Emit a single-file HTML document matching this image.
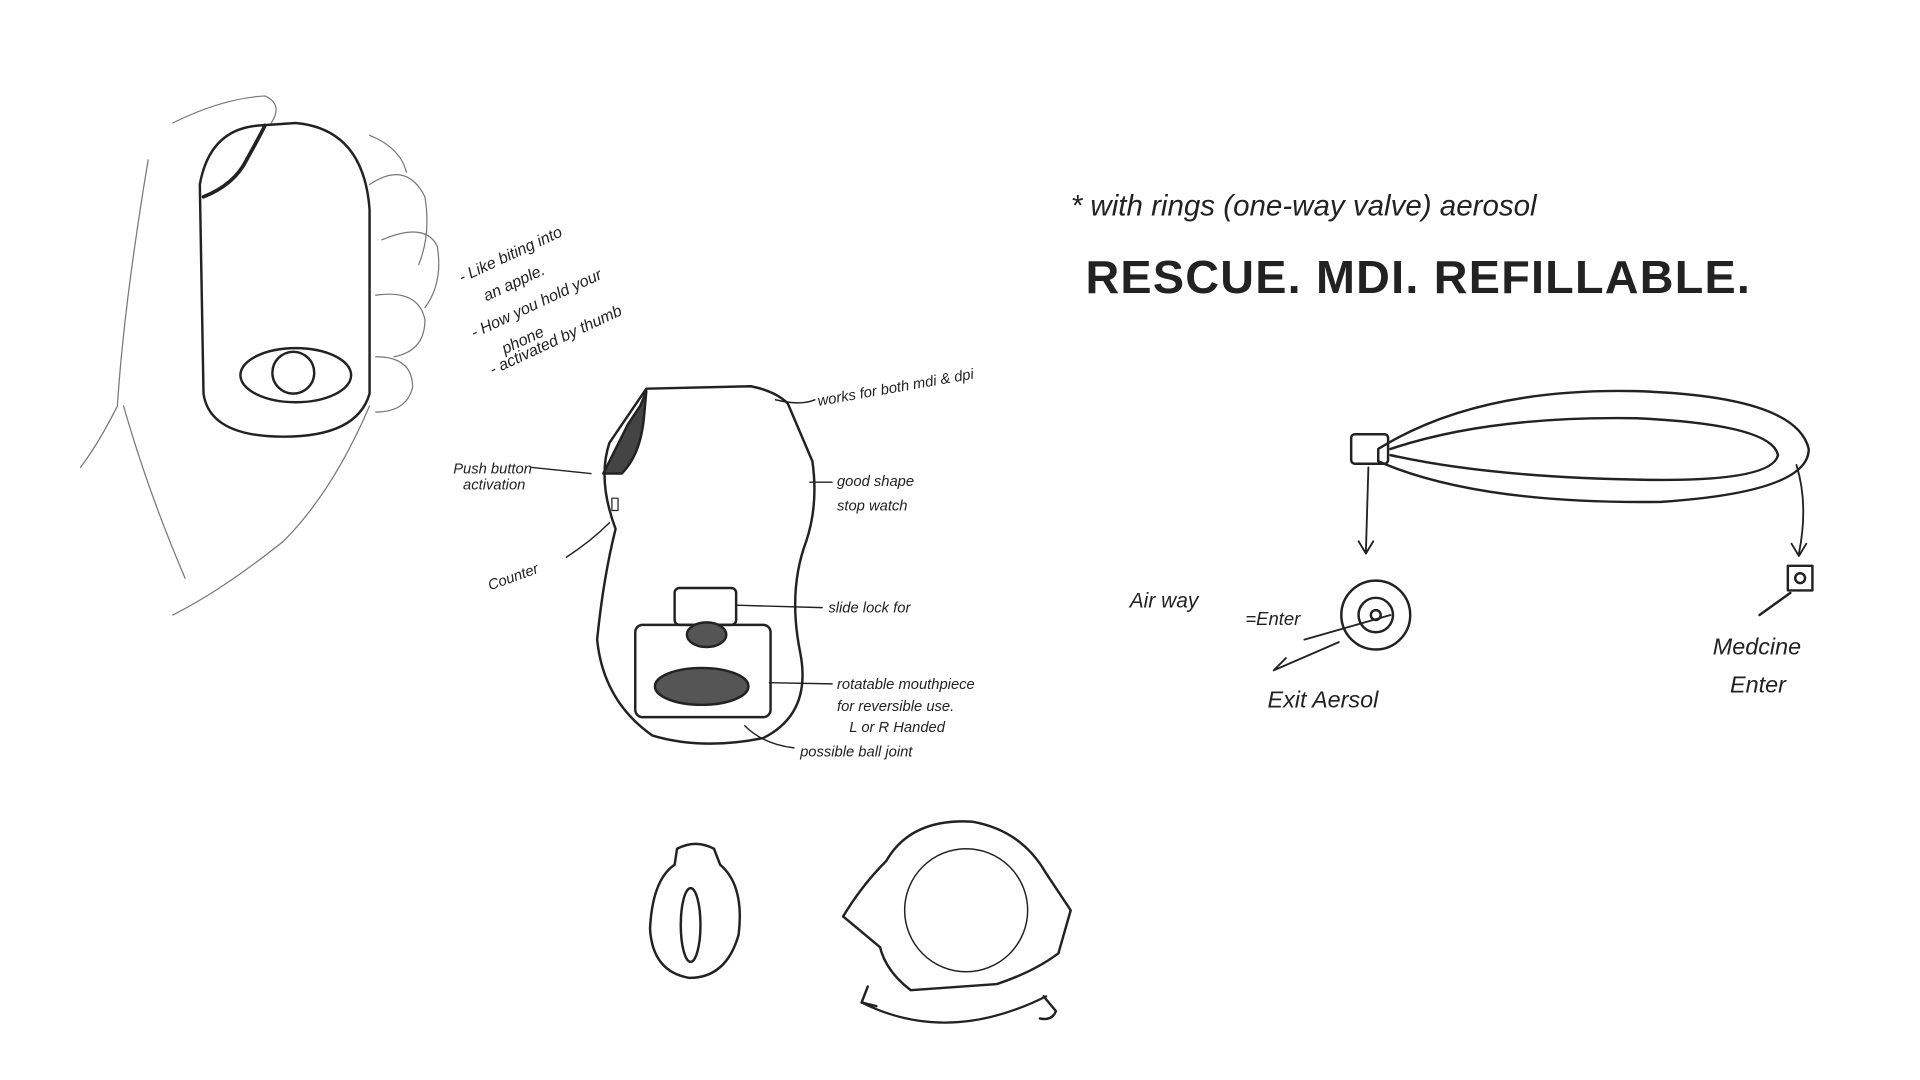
<!DOCTYPE html>
<html><head><meta charset="utf-8"><style>
html,body{margin:0;padding:0;background:#fff;width:1920px;height:1080px;overflow:hidden}
svg{display:block}
text{font-family:"Liberation Sans",sans-serif;fill:#222}
.h{font-family:"Liberation Sans",sans-serif;font-style:italic}
</style></head><body>
<svg width="1920" height="1080" viewBox="0 0 1560 878" xmlns="http://www.w3.org/2000/svg">
<rect width="1560" height="878" fill="#fff"/>
<g fill="none" stroke="#222" stroke-width="2" stroke-linecap="round" stroke-linejoin="round">
<!-- hand phone sketch -->
<g stroke="#777" stroke-width="1">
<path d="M140 100 Q180 80 215 78 Q230 85 220 100"/>
<path d="M120 130 Q100 250 95 330 Q80 360 65 380"/>
<path d="M300 150 Q330 130 345 160 Q350 190 340 215"/>
<path d="M310 195 Q345 180 355 200 Q360 230 345 250"/>
<path d="M305 240 Q340 235 345 260 Q345 285 320 290"/>
<path d="M305 290 Q335 290 335 315 Q330 335 305 335"/>
<path d="M300 330 Q270 400 230 440 Q180 480 140 500"/>
<path d="M100 330 Q120 400 150 470"/>
<path d="M300 110 Q325 120 330 140"/>
</g>
<path d="M210 102 Q170 105 162 150 L165 320 Q170 355 230 355 Q290 355 300 320 L300 170 Q295 105 240 100 Z"/>
<path d="M165 160 Q190 150 200 130 Q210 112 215 102" stroke-width="3"/>
<ellipse cx="240" cy="305" rx="45" ry="22"/>
<circle cx="238" cy="303" r="17"/>
<!-- inhaler main -->
<path d="M525 316 L610 314 Q630 318 640 328 L660 375 Q665 410 655 440 Q640 480 650 530 Q660 580 620 600 Q570 610 530 598 Q490 570 485 520 Q490 470 500 430 Q485 390 495 360 Z"/>
<path d="M525 318 L520 330 L510 345 L490 385 L505 385 Q520 370 523 340 Z" fill="#444"/>
<rect x="516" y="508" width="110" height="75" rx="6"/>
<ellipse cx="570" cy="558" rx="38" ry="15" fill="#555"/>
<rect x="548" y="478" width="50" height="30" rx="4"/>
<ellipse cx="574" cy="516" rx="16" ry="10" fill="#555"/>
<rect x="497" y="405" width="5" height="10" stroke-width="1"/>
<!-- leader lines -->
<g stroke-width="1.2">
<path d="M630 325 Q650 330 662 325"/>
<path d="M658 392 L676 392"/>
<path d="M432 380 L480 385"/>
<path d="M460 453 Q480 440 495 425"/>
<path d="M598 492 L668 494"/>
<path d="M625 555 L676 556"/>
<path d="M605 590 Q620 605 645 608"/>
</g>
<!-- bottom small sketches -->
<path d="M550 690 Q565 682 580 690 L585 703 Q605 720 600 760 Q590 795 560 795 Q530 790 528 755 Q530 715 548 703 Z"/>
<ellipse cx="561" cy="752" rx="8" ry="30"/>
<path d="M720 700 Q740 665 790 668 Q830 675 850 710 L870 740 L860 775 Q840 790 810 800 L740 805 Q720 790 715 770 L685 745 Q700 720 720 700 Z"/>
<circle cx="785" cy="740" r="50" stroke-width="1.2"/>
<path d="M700 815 Q770 850 850 810" stroke-width="1.8"/>
<path d="M700 815 L705 802 M700 815 L712 818"/>
<path d="M848 810 L858 822 Q855 830 845 828"/>
<!-- right canister -->
<path d="M1120 365 Q1200 315 1330 318 Q1460 322 1470 365 Q1470 400 1350 408 Q1200 410 1120 375 Z"/>
<path d="M1130 365 Q1210 338 1330 340 Q1440 345 1445 370 Q1440 392 1335 390 Q1210 388 1130 370"/>
<rect x="1098" y="353" width="30" height="24" rx="3"/>
<path d="M1112 380 L1110 448 M1104 440 L1110 450 L1116 440" stroke-width="1.5"/>
<path d="M1460 378 Q1470 410 1462 450 M1456 442 L1462 452 L1468 442" stroke-width="1.5"/>
<circle cx="1118" cy="500" r="28"/>
<circle cx="1118" cy="500" r="14"/>
<circle cx="1118" cy="500" r="4"/>
<rect x="1453" y="460" width="20" height="20"/>
<circle cx="1463" cy="470" r="4"/>
<path d="M1060 520 L1130 500 M1088 522 L1035 545 L1045 535" stroke-width="1.5"/>
<path d="M1455 482 L1430 500"/>
</g>
<g class="h" font-size="13">
<text transform="translate(375,230) rotate(-25)">- Like biting into</text>
<text transform="translate(395,245) rotate(-25)">an apple.</text>
<text transform="translate(385,275) rotate(-25)">- How you hold your</text>
<text transform="translate(410,288) rotate(-25)">phone</text>
<text transform="translate(400,305) rotate(-25)">- activated by thumb</text>
<text transform="translate(665,330) rotate(-10)" font-size="12">works for both mdi &amp; dpi</text>
<text x="680" y="395" font-size="12">good shape</text>
<text x="680" y="415" font-size="12">stop watch</text>
<text x="368" y="385" font-size="12">Push button</text>
<text x="376" y="398" font-size="12">activation</text>
<text transform="translate(398,480) rotate(-20)" font-size="12">Counter</text>
<text x="673" y="498" font-size="12">slide lock for</text>
<text x="680" y="560" font-size="12">rotatable mouthpiece</text>
<text x="680" y="578" font-size="12">for reversible use.</text>
<text x="690" y="595" font-size="12">L or R Handed</text>
<text x="650" y="615" font-size="12">possible ball joint</text>
<text x="870" y="175" font-size="24">* with rings (one-way valve) aerosol</text>
<text x="918" y="494" font-size="17">Air way</text>
<text x="1012" y="508" font-size="15">=Enter</text>
<text x="1030" y="575" font-size="19">Exit Aersol</text>
<text x="1392" y="532" font-size="19">Medcine</text>
<text x="1406" y="563" font-size="19">Enter</text>
</g>
<text x="882" y="238" font-size="38" font-weight="bold" fill="#111" letter-spacing="1">RESCUE. MDI. REFILLABLE.</text>
</svg>
</body></html>
